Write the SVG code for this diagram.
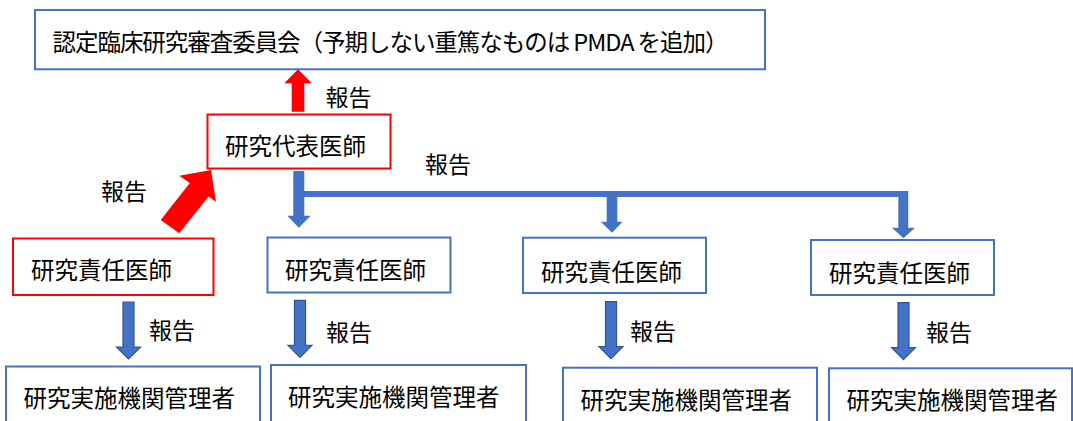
<svg xmlns="http://www.w3.org/2000/svg" xmlns:xlink="http://www.w3.org/1999/xlink" width="1073" height="421" viewBox="0 0 1073 421">
<style>
.t{font-family:"Noto Sans CJK JP","Noto Sans",sans-serif;font-size:23.5px;fill:#000}
.l{font-family:"Noto Sans CJK JP","Noto Sans",sans-serif;font-size:23px;fill:#000}
.bb{fill:#fff;stroke:#4472C4;stroke-width:2}
.rb{fill:#fff;stroke:#FF0000;stroke-width:2}
.sa{fill:#4472C4;stroke:#2F5597;stroke-width:1.2}
</style>
<defs>
<path id="dn" d="M-5.5,0 H5.5 V45 H12 L0,57 L-12,45 H-5.5 Z"/>
</defs>
<rect width="1073" height="421" fill="#fff"/>
<g id="connectors">
<polygon fill="#FF0000" points="291.7,111.7 304.3,111.7 304.3,83.3 311.7,83.3 298,69.3 284.3,83.3 291.7,83.3"/>
<polygon fill="#FF0000" points="160.7,220 189.8,183.1 179.3,175.7 211,170 216,201.7 208.6,196.4 179.3,233.3"/>
<path fill="#4472C4" d="M293.3,171 H304.3 V191 H908.3 V227.7 H915 L903.5,238.3 L892,227.7 H898.3 V197 H617.3 V221.7 H622.7 L612,232.7 L600.7,221.7 H606.7 V197 H304.3 V215.7 H310.7 L298.8,227.7 L287.3,215.7 H293.3 Z"/>
<use href="#dn" class="sa" transform="translate(128.5,302)"/>
<use href="#dn" class="sa" transform="translate(300,300.3)"/>
<use href="#dn" class="sa" transform="translate(611,301.7)"/>
<use href="#dn" class="sa" transform="translate(903.5,302.7)"/>
<text class="l" x="325.5" y="106">報告</text>
<text class="l" x="425" y="172.5">報告</text>
<text class="l" x="101" y="199.5">報告</text>
<text class="l" x="149" y="339">報告</text>
<text class="l" x="326" y="340.5">報告</text>
<text class="l" x="630" y="339.8">報告</text>
<text class="l" x="926" y="341.3">報告</text>
</g>
<g id="committee">
<rect class="bb" x="35" y="10" width="730" height="59.3"/>
<text class="t" x="52.5" y="50.5" textLength="676" lengthAdjust="spacing">認定臨床研究審査委員会（予期しない重篤なものは PMDA を追加）</text>
</g>
<g id="principal">
<rect class="rb" x="207.5" y="114.5" width="183" height="54"/>
<text class="t" x="225" y="155">研究代表医師</text>
</g>
<g id="investigator1">
<rect class="rb" x="13" y="238.5" width="200.5" height="56.5"/>
<text class="t" x="31" y="279">研究責任医師</text>
</g>
<g id="investigator2">
<rect class="bb" x="267.5" y="237.5" width="183" height="55"/>
<text class="t" x="285" y="279">研究責任医師</text>
</g>
<g id="investigator3">
<rect class="bb" x="523" y="237.7" width="183" height="55.3"/>
<text class="t" x="541" y="281">研究責任医師</text>
</g>
<g id="investigator4">
<rect class="bb" x="811" y="240" width="183" height="55"/>
<text class="t" x="829" y="281.7">研究責任医師</text>
</g>
<g id="admin1">
<rect class="bb" x="6" y="366.5" width="254" height="70"/>
<text class="t" x="23.5" y="406.5">研究実施機関管理者</text>
</g>
<g id="admin2">
<rect class="bb" x="271" y="365" width="255" height="70"/>
<text class="t" x="288" y="405.8">研究実施機関管理者</text>
</g>
<g id="admin3">
<rect class="bb" x="563" y="367.7" width="254" height="70"/>
<text class="t" x="580.5" y="409">研究実施機関管理者</text>
</g>
<g id="admin4">
<rect class="bb" x="829" y="368.3" width="243" height="70"/>
<text class="t" x="846.5" y="409">研究実施機関管理者</text>
</g>
</svg>
